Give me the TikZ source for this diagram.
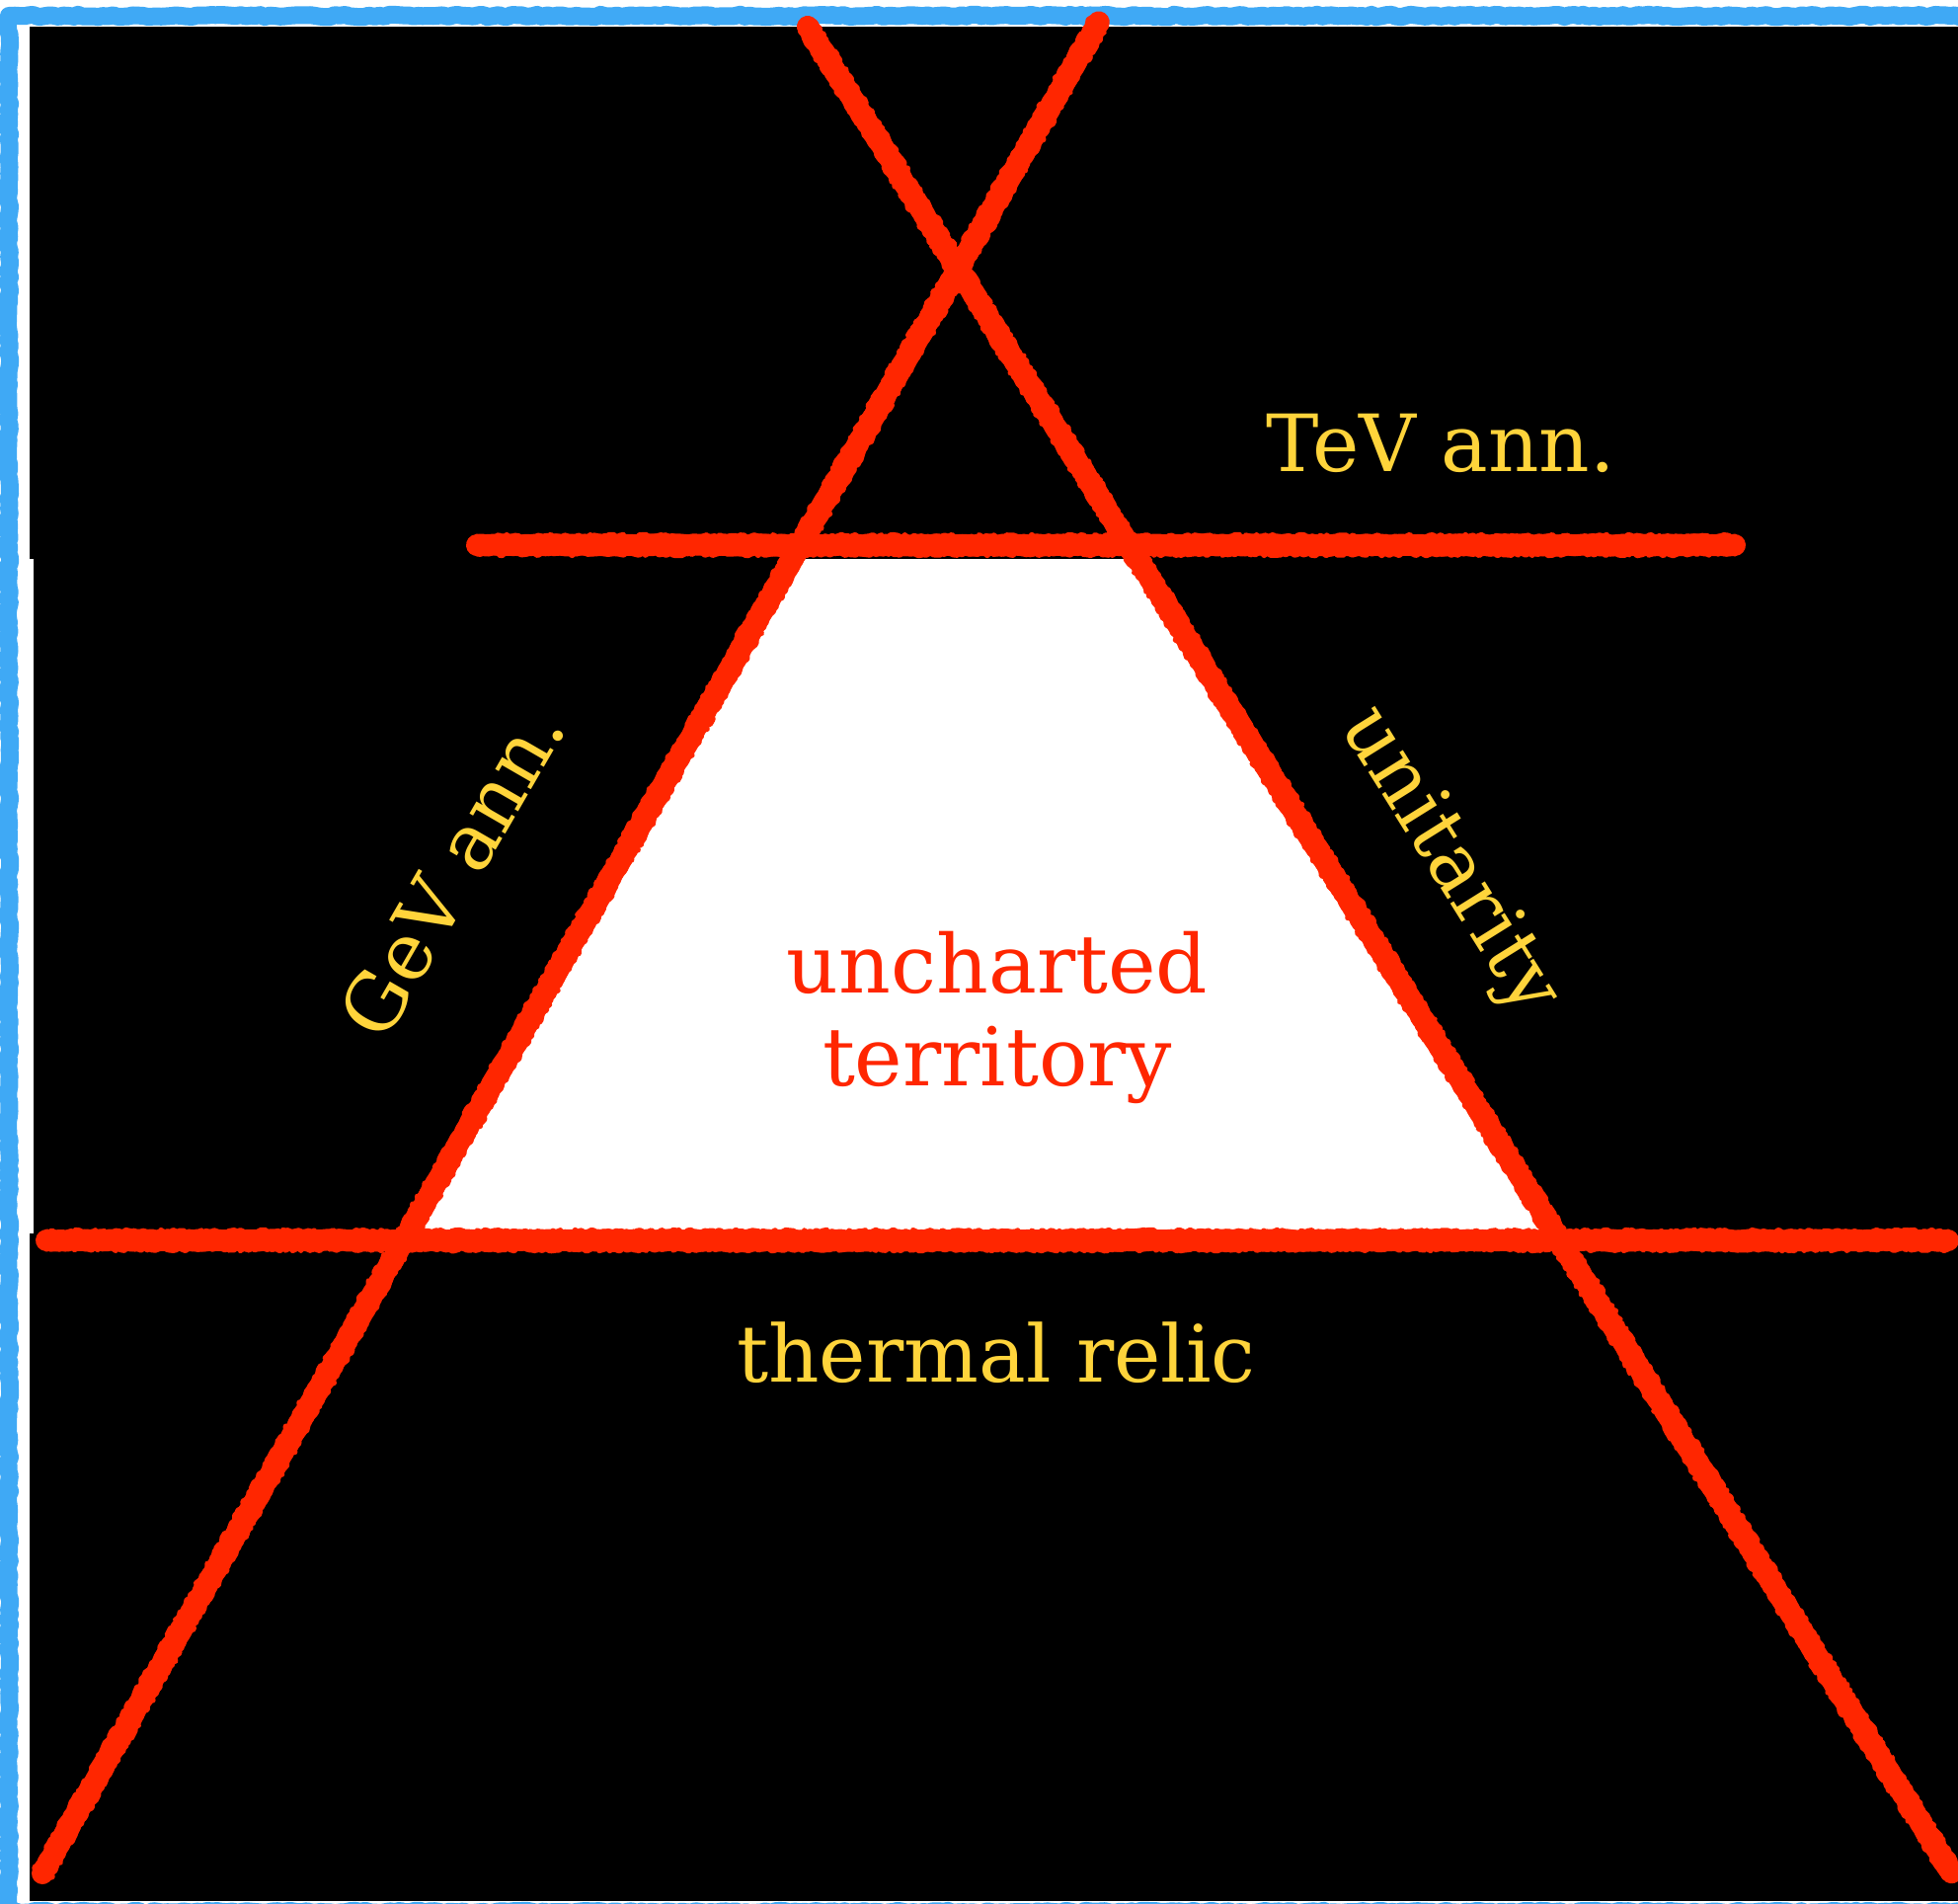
\documentclass[tikz,border=0pt]{standalone}
\usepackage{fontspec}
\setmainfont{DejaVu Serif}
\usetikzlibrary{decorations.pathmorphing,calc}
\definecolor{chalkred}{HTML}{FF2600}
\definecolor{chalkblue}{HTML}{3FA9F5}
\definecolor{labelgold}{HTML}{FFD43B}

\begin{document}
\begin{tikzpicture}[
  x=0.5pt, y=-0.5pt,
  every node/.style={inner sep=0pt, outer sep=0pt},
  chalk/.style={draw=chalkred, line width=11pt, line cap=round, line join=round,
    decorate, decoration={random steps, segment length=2.5pt, amplitude=0.35pt}},
  chalkedge/.style={draw=chalkred, line width=2.5pt, line cap=round, line join=round,
    decorate, decoration={random steps, segment length=1.5pt, amplitude=0.9pt}},
  frame/.style={draw=chalkblue, line width=9pt, line join=round,
    decorate, decoration={random steps, segment length=2.5pt, amplitude=0.6pt}},
  region/.style={font=\fontsize{40}{48}\selectfont, text=labelgold, anchor=base},
  unknown/.style={font=\fontsize{41}{47}\selectfont, text=chalkred, align=center}
]
  \pgfmathsetseed{11}
  \useasboundingbox (0,0) rectangle (1983,1928);
  \fill[white] (0,0) rectangle (1983,1928);

  % end points of the four bounds
  \coordinate (gevlo) at (43,1897);
  \coordinate (gevhi) at (1113,22);
  \coordinate (unihi) at (818,27);
  \coordinate (unilo) at (1977,1897);
  \coordinate (tevl) at (483,552);
  \coordinate (tevr) at (1757,552);
  \coordinate (relicl) at (47,1256);
  \coordinate (relicr) at (1973,1256);

  % black background, middle band set in a little
  \fill[black] (30,27) rectangle (1983,566);
  \fill[black] (34,566) rectangle (1983,1249);
  \fill[black] (30,1249) rectangle (1983,1925);

  % open region between the bounds
  \coordinate (bandtl) at (0,566);  \coordinate (bandtr) at (1983,566);
  \coordinate (bandbl) at (0,1249); \coordinate (bandbr) at (1983,1249);
  \fill[white] (intersection of gevlo--gevhi and bandtl--bandtr)
    -- (intersection of unihi--unilo and bandtl--bandtr)
    -- (intersection of unihi--unilo and bandbl--bandbr)
    -- (intersection of gevlo--gevhi and bandbl--bandbr) -- cycle;

  % blue frame
  \draw[frame] (9,1960) -- (9,16) -- (2000,16);
  \draw[frame] (-10,1936) -- (2000,1936);

  % the bounds
  \foreach \a/\b in {gevlo/gevhi, unihi/unilo, tevl/tevr, relicl/relicr} {
    \draw[chalk] (\a) -- (\b);
    \draw[chalkedge] ($(\a)!4.5pt!90:(\b)$) -- ($(\b)!4.5pt!-90:(\a)$);
    \draw[chalkedge] ($(\a)!4.5pt!-90:(\b)$) -- ($(\b)!4.5pt!90:(\a)$);
  }

  \node[region] (tev) at (1459,477) {TeV ann.};
  \node[region] (relic) at (1009,1399) {thermal relic};
  \node[region, anchor=center, rotate=60] (gev) at (457,882) {GeV ann.};
  \node[region, anchor=center, rotate=-58] (uni) at (1467,873) {unitarity};
  \node[unknown] (open) at (1010,1030) {uncharted\\territory};
\end{tikzpicture}
\end{document}
